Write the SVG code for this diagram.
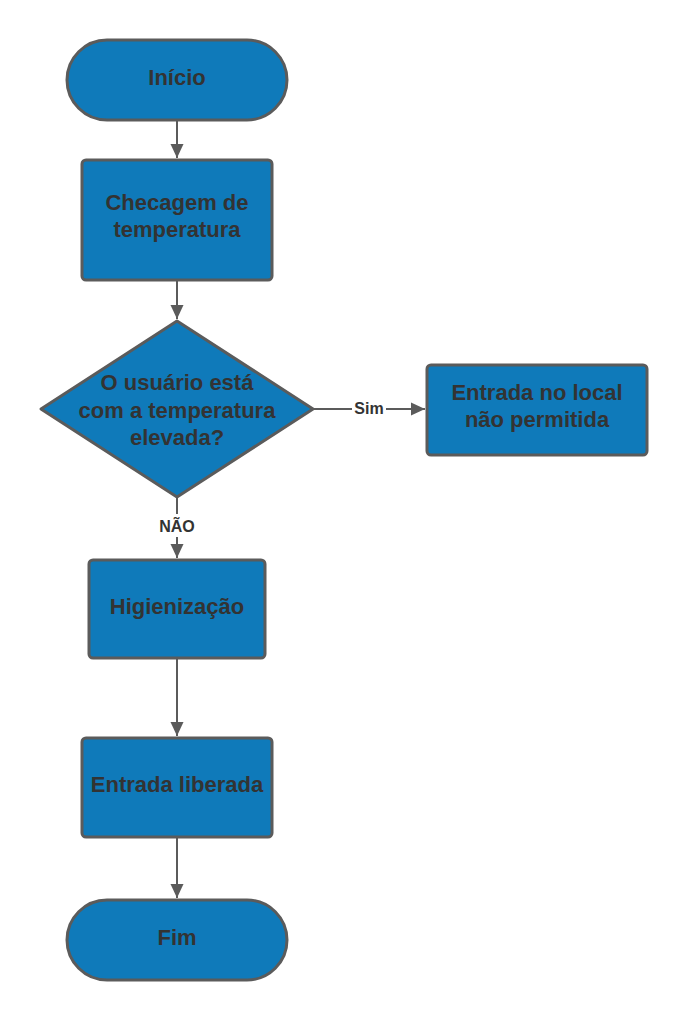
<svg xmlns="http://www.w3.org/2000/svg" width="688" height="1020" viewBox="0 0 688 1020">
<defs>
<style>
.n{fill:#0f7aba;stroke:#5b5b5b;stroke-width:3}
.t{font-family:"Liberation Sans",Arial,sans-serif;font-weight:bold;font-size:22px;fill:#333333;text-anchor:middle}
.l{font-family:"Liberation Sans",Arial,sans-serif;font-weight:bold;font-size:16px;fill:#333333;text-anchor:middle}
.c{fill:none;stroke:#5b5b5b;stroke-width:2}
</style>
<marker id="ah" markerWidth="14" markerHeight="14" viewBox="0 0 14 14" refX="14" refY="7" orient="auto" markerUnits="userSpaceOnUse">
<path d="M0,0.5 L14,7 L0,13.5 Z" fill="#5b5b5b"/>
</marker>
</defs>
<rect width="688" height="1020" fill="#ffffff"/>
<g id="connectors">
<line class="c" x1="177" y1="121" x2="177" y2="158" marker-end="url(#ah)"/>
<line class="c" x1="177" y1="281" x2="177" y2="319" marker-end="url(#ah)"/>
<line class="c" x1="314" y1="409" x2="352" y2="409"/>
<line class="c" x1="386" y1="409" x2="425" y2="409" marker-end="url(#ah)"/>
<line class="c" x1="177" y1="498" x2="177" y2="514"/>
<line class="c" x1="177" y1="537" x2="177" y2="558" marker-end="url(#ah)"/>
<line class="c" x1="177" y1="659" x2="177" y2="736" marker-end="url(#ah)"/>
<line class="c" x1="177" y1="838" x2="177" y2="898" marker-end="url(#ah)"/>
<text class="l" x="369" y="414">Sim</text>
<text class="l" x="177" y="532">NÃO</text>
</g>
<g id="inicio">
<rect class="n" x="67" y="40" width="220" height="80" rx="40"/>
<text class="t" x="177" y="85">Início</text>
</g>
<g id="checagem">
<rect class="n" x="82" y="160" width="190" height="120" rx="4"/>
<text class="t" x="177" y="210">Checagem de</text>
<text class="t" x="177" y="237">temperatura</text>
</g>
<g id="decisao">
<path class="n" d="M177,321 L313,409 L177,497 L41,409 Z" stroke-linejoin="round"/>
<text class="t" x="177" y="390">O usuário está</text>
<text class="t" x="177" y="418">com a temperatura</text>
<text class="t" x="177" y="445">elevada?</text>
</g>
<g id="nao-permitida">
<rect class="n" x="427" y="365" width="220" height="90" rx="4"/>
<text class="t" x="537" y="400">Entrada no local</text>
<text class="t" x="537" y="427">não permitida</text>
</g>
<g id="higienizacao">
<rect class="n" x="89" y="560" width="176" height="98" rx="4"/>
<text class="t" x="177" y="614">Higienização</text>
</g>
<g id="entrada-liberada">
<rect class="n" x="82" y="738" width="190" height="99" rx="4"/>
<text class="t" x="177" y="792">Entrada liberada</text>
</g>
<g id="fim">
<rect class="n" x="67" y="900" width="220" height="80" rx="40"/>
<text class="t" x="177" y="945">Fim</text>
</g>
</svg>
